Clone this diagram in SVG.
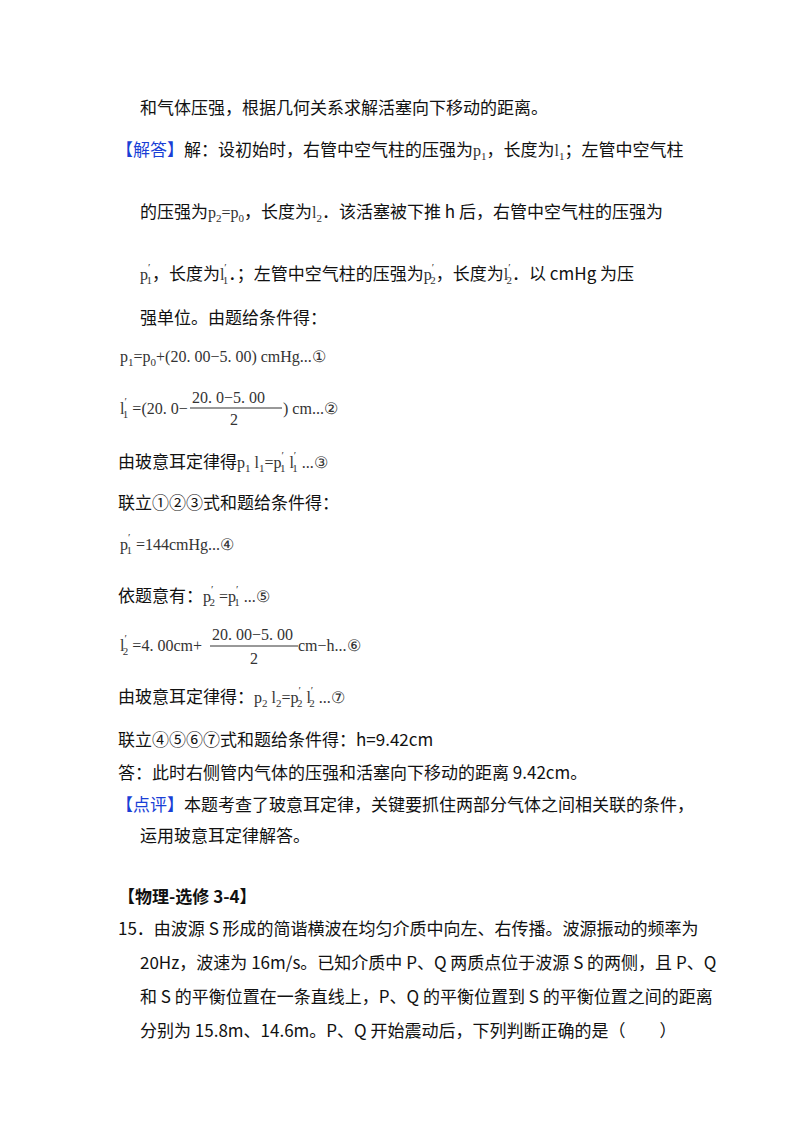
<svg xmlns="http://www.w3.org/2000/svg" width="800" height="1132" viewBox="0 0 800 1132">
<style>
.t{font-family:"Noto Sans CJK SC","Noto Sans",sans-serif;font-size:17px;fill:#111}
.m{font-family:"Liberation Serif","DejaVu Serif",serif;font-size:16px;fill:#333}
.s{font-size:11px}
.b{fill:#1a3fd6}
.bold{font-weight:bold}
</style>
<rect width="800" height="1132" fill="#fff"/>
<text class="t" x="140" y="114">和气体压强，根据几何关系求解活塞向下移动的距离。</text>
<text class="t" x="116" y="156"><tspan class="b">【解答】</tspan>解：设初始时，右管中空气柱的压强为<tspan class="m">p</tspan><tspan class="m s" dy="4">1</tspan><tspan dy="-4">，长度为</tspan><tspan class="m">l</tspan><tspan class="m s" dy="4">1</tspan><tspan dy="-4">；左管中空气柱</tspan></text>
<text class="t" x="140" y="218">的压强为<tspan class="m">p</tspan><tspan class="m s" dy="4">2</tspan><tspan class="m" dy="-4">=p</tspan><tspan class="m s" dy="4">0</tspan><tspan dy="-4">，长度为</tspan><tspan class="m">l</tspan><tspan class="m s" dy="4">2</tspan><tspan dy="-4">．该活塞被下推 h 后，右管中空气柱的压强为</tspan></text>
<text class="t" x="140" y="280"><tspan class="m">p</tspan><tspan class="m s" dy="-9">′</tspan><tspan class="m s" dx="-4" dy="13">1</tspan><tspan dy="-4">，长度为</tspan><tspan class="m">l</tspan><tspan class="m s" dy="-9">′</tspan><tspan class="m s" dx="-4" dy="13">1</tspan><tspan dy="-4">．；左管中空气柱的压强为</tspan><tspan class="m">p</tspan><tspan class="m s" dy="-9">′</tspan><tspan class="m s" dx="-4" dy="13">2</tspan><tspan dy="-4">，长度为</tspan><tspan class="m">l</tspan><tspan class="m s" dy="-9">′</tspan><tspan class="m s" dx="-4" dy="13">2</tspan><tspan dy="-4">．以 cmHg 为压</tspan></text>
<text class="t" x="140" y="324">强单位。由题给条件得：</text>
<text class="m" x="120" y="362">p<tspan class="s" dy="4">1</tspan><tspan dy="-4">=p</tspan><tspan class="s" dy="4">0</tspan><tspan dy="-4">+(20. 00−5. 00) cmHg...①</tspan></text>
<text class="m" x="120" y="414">l<tspan class="s" dy="-9">′</tspan><tspan class="s" dx="-4" dy="13">1</tspan><tspan dy="-4"> =(20. 0−</tspan></text>
<text class="m" x="192" y="403">20. 0−5. 00</text>
<line x1="190" y1="408" x2="282" y2="408" stroke="#333" stroke-width="1"/>
<text class="m" x="230" y="425">2</text>
<text class="m" x="283" y="414">) cm...②</text>
<text class="t" x="118" y="468">由玻意耳定律得<tspan class="m">p</tspan><tspan class="m s" dy="4">1</tspan><tspan class="m" dy="-4"> l</tspan><tspan class="m s" dy="4">1</tspan><tspan class="m" dy="-4">=p</tspan><tspan class="m s" dy="-9">′</tspan><tspan class="m s" dx="-4" dy="13">1</tspan><tspan class="m" dy="-4"> l</tspan><tspan class="m s" dy="-9">′</tspan><tspan class="m s" dx="-4" dy="13">1</tspan><tspan class="m" dy="-4"> ...③</tspan></text>
<text class="t" x="118" y="509">联立①②③式和题给条件得：</text>
<text class="m" x="120" y="550">p<tspan class="s" dy="-9">′</tspan><tspan class="s" dx="-4" dy="13">1</tspan><tspan dy="-4"> =144cmHg...④</tspan></text>
<text class="t" x="118" y="602">依题意有：<tspan class="m">p</tspan><tspan class="m s" dy="-9">′</tspan><tspan class="m s" dx="-4" dy="13">2</tspan><tspan class="m" dy="-4"> =p</tspan><tspan class="m s" dy="-9">′</tspan><tspan class="m s" dx="-4" dy="13">1</tspan><tspan class="m" dy="-4"> ...⑤</tspan></text>
<text class="m" x="120" y="651">l<tspan class="s" dy="-9">′</tspan><tspan class="s" dx="-4" dy="13">2</tspan><tspan dy="-4"> =4. 00cm+</tspan></text>
<text class="m" x="212" y="640">20. 00−5. 00</text>
<line x1="210" y1="646" x2="298" y2="646" stroke="#333" stroke-width="1"/>
<text class="m" x="250" y="664">2</text>
<text class="m" x="298" y="651">cm−h...⑥</text>
<text class="t" x="118" y="703">由玻意耳定律得：<tspan class="m">p</tspan><tspan class="m s" dy="4">2</tspan><tspan class="m" dy="-4"> l</tspan><tspan class="m s" dy="4">2</tspan><tspan class="m" dy="-4">=p</tspan><tspan class="m s" dy="-9">′</tspan><tspan class="m s" dx="-4" dy="13">2</tspan><tspan class="m" dy="-4"> l</tspan><tspan class="m s" dy="-9">′</tspan><tspan class="m s" dx="-4" dy="13">2</tspan><tspan class="m" dy="-4"> ...⑦</tspan></text>
<text class="t" x="118" y="746">联立④⑤⑥⑦式和题给条件得：h=9.42cm</text>
<text class="t" x="118" y="779">答：此时右侧管内气体的压强和活塞向下移动的距离 9.42cm。</text>
<text class="t" x="116" y="811"><tspan class="b">【点评】</tspan>本题考查了玻意耳定律，关键要抓住两部分气体之间相关联的条件，</text>
<text class="t" x="140" y="842">运用玻意耳定律解答。</text>
<text class="t bold" x="118" y="903">【物理-选修 3-4】</text>
<text class="t" x="118" y="935">15．由波源 S 形成的简谐横波在均匀介质中向左、右传播。波源振动的频率为</text>
<text class="t" x="140" y="969">20Hz，波速为 16m/s。已知介质中 P、Q 两质点位于波源 S 的两侧，且 P、Q</text>
<text class="t" x="140" y="1003">和 S 的平衡位置在一条直线上，P、Q 的平衡位置到 S 的平衡位置之间的距离</text>
<text class="t" x="140" y="1037">分别为 15.8m、14.6m。P、Q 开始震动后，下列判断正确的是（　　）</text>
</svg>
